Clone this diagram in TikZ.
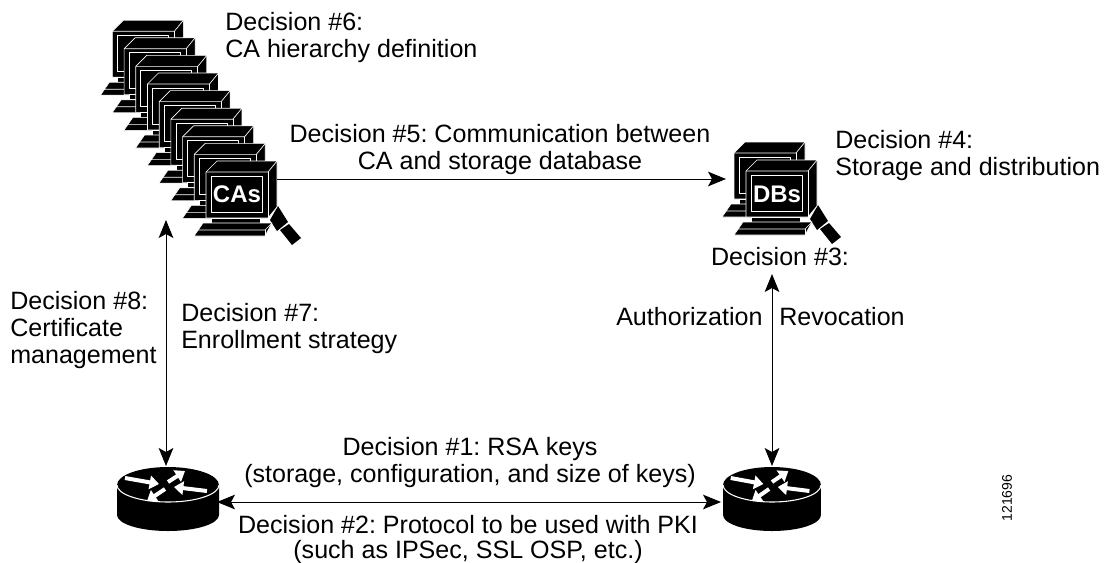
\documentclass[tikz,border=0pt]{standalone}
\usepackage{fontspec}
\setmainfont{Liberation Sans}
\usetikzlibrary{arrows.meta}
\tikzset{
  x=0.75pt,y=-0.75pt,
  lbl/.style={inner sep=0pt,font=\fontsize{18.8pt}{20.4pt}\selectfont\frenchspacing,align=left,anchor=north west},
  clbl/.style={inner sep=0pt,font=\fontsize{18.8pt}{20.4pt}\selectfont\frenchspacing,align=center,anchor=north},
  link/.style={draw=black,line width=0.75pt,{Stealth[length=13.5pt,width=11pt,inset=3pt]}-{Stealth[length=13.5pt,width=11pt,inset=3pt]}},
  oneway/.style={draw=black,line width=0.75pt,-{Stealth[length=13.5pt,width=11pt,inset=3pt]}},
  wl/.style={draw=white,line width=0.5pt,line join=round},
  blk/.style={fill=black,draw=white,line width=0.5pt,line join=round},
  warrow/.style={draw=white,line width=3pt,-{Triangle[length=7pt,width=10pt]}},
  screenlbl/.style={inner sep=0pt,font=\fontsize{18pt}{18pt}\selectfont\bfseries,text=white},
  pics/computer/.style={code={
    \path[blk] (0,0) -- (11,-11) -- (71,-11) -- (71,35) -- (62,46) -- (0,46) -- cycle;
    \draw[wl] (0,0) -- (62,0) -- (71,-11);
    \draw[wl] (62,0) -- (62,46);
    \draw[wl] (5,4) rectangle (56,40);
    \path[blk] (5,46) rectangle (54,51);
    \path[blk] (-12,64) -- (-3,51) -- (66,51) -- (59,64) -- cycle;
    \draw[wl] (-12,58) -- (59,58) -- (66,51);
    \draw[wl] (59,58) -- (59,64);
  }},
  pics/wand/.style={code={
    \fill[black] (72,34) -- (82,50) -- (71,59) -- (64,48) -- cycle;
    \fill[black] (74,58) -- (83,52) -- (95,66) -- (86,73) -- cycle;
  }},
  pics/router/.style={code={
    \fill[black] (-51,0) -- (-51,30) arc[start angle=180,end angle=0,x radius=51,y radius=16] -- (51,0) -- cycle;
    \fill[black] (0,0) ellipse[x radius=51,y radius=18];
    \draw[white,line width=0.8pt] (-51,0) arc[start angle=180,end angle=0,x radius=51,y radius=17];
    \draw[warrow] (-43,-7) -- (-9,-1);
    \draw[warrow] (0,-3) -- (17,-14);
    \draw[warrow] (39,6) -- (6,2);
    \draw[warrow] (-3,4) -- (-21,16);
  }}
}
\begin{document}
\begin{tikzpicture}
\useasboundingbox (0,0) rectangle (1109,562);
\foreach \i in {8,7,...,1} {
  \pic at ({206-11.7*\i},{172-17.6*\i}) {computer};
}
\pic at (206,172) {wand};
\pic at (206,172) {computer};
\node[screenlbl] (cas) at (237,194) {CAs};
\coordinate (caE) at (277,179);
\coordinate (caS) at (166,220);
\pic at (734,153) {computer};
\pic at (746,171) {wand};
\pic at (746,171) {computer};
\node[screenlbl] (dbs) at (777,194) {DBs};
\coordinate (dbW) at (726,179);
\coordinate (dbS) at (772,274);
\pic at (168,485) {router};
\pic[xscale=0.96] at (772,485) {router};
\coordinate (r1N) at (166,466);
\coordinate (r2N) at (772,466);
\coordinate (r1E) at (217,502);
\coordinate (r2W) at (721,502);
\draw[oneway] (caE) -- (dbW);
\draw[link] (caS) -- (r1N);
\draw[link] (dbS) -- (r2N);
\draw[link] (r1E) -- (r2W);
\node[lbl] (d6) at (225,12) {Decision \#6:\\CA hierarchy definition};
\node[clbl] (d5) at (500,124) {Decision \#5: Communication between\\CA and storage database};
\node[lbl] (d4) at (835,130) {Decision \#4:\\Storage and distribution};
\node[clbl] (d3) at (780,247) {Decision \#3:};
\node[lbl] (d8) at (10,291) {Decision \#8:\\Certificate\\management};
\node[lbl] (d7) at (181,303) {Decision \#7:\\Enrollment strategy};
\node[lbl] (auth) at (616,307) {Authorization};
\node[lbl] (rev) at (779,307) {Revocation};
\node[clbl] (d1) at (470,437) {Decision \#1: RSA keys\\(storage, configuration, and size of keys)};
\node[clbl] (d2) at (468,515) {Decision \#2: Protocol to be used with PKI\\[-1.65pt](such as IPSec, SSL OSP, etc.)};
\node[inner sep=0pt,rotate=90,font=\fontsize{10.5pt}{12pt}\selectfont] (num) at (1007,498) {121696};
\end{tikzpicture}
\end{document}
